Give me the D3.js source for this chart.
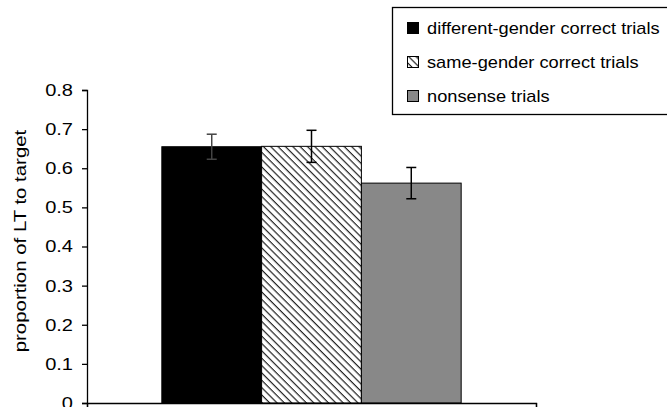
<!DOCTYPE html>
<html><head><meta charset="utf-8">
<script src="https://cdn.jsdelivr.net/npm/d3@7"></script>
<style>body{margin:0;background:#fff}svg{display:block}text{font-family:"Liberation Sans",Arial,sans-serif;fill:#000}</style>
</head><body>
<script>
const series = ["different-gender correct trials","same-gender correct trials","nonsense trials"];
const values = [0.655, 0.656, 0.562];
const errors = [0.032, 0.041, 0.040];
const yTicks = [0,0.1,0.2,0.3,0.4,0.5,0.6,0.7,0.8];
const yTitle = "proportion of LT to target";
const fills = ["#000000","url(#hatch)","#888888"];

const W=667,H=407;
const svg=d3.select("body").append("svg").attr("width",W).attr("height",H);
const defs=svg.append("defs");
const P=5.2;
const pat=defs.append("pattern").attr("id","hatch").attr("patternUnits","userSpaceOnUse")
  .attr("width",P).attr("height",P).attr("patternTransform","rotate(45)");
pat.append("rect").attr("width",P).attr("height",P).attr("fill","#fff");
pat.append("line").attr("x1",0).attr("y1",0.6).attr("x2",P).attr("y2",0.6).attr("stroke","#222").attr("stroke-width",1.2);

const x0=87,x1=536,yTop=90,yBot=403;
const y=d3.scaleLinear().domain([0,0.8]).range([yBot,yTop]);
const band=d3.scaleBand().domain(["g"]).range([x0,x1]).paddingInner(0).paddingOuter(0.25);
const xs=d3.scaleBand().domain(series).range([band("g"),band("g")+band.bandwidth()]).padding(0);

const g=svg.append("g");
g.selectAll("rect.bar").data(series).join("rect").attr("class","bar")
 .attr("x",d=>xs(d)).attr("width",xs.bandwidth())
 .attr("y",(d,i)=>y(values[i])).attr("height",(d,i)=>y(0)-y(values[i]))
 .attr("fill",(d,i)=>fills[i]).attr("stroke","#000").attr("stroke-width",1);
series.forEach((s,i)=>{
  const cx=xs(s)+xs.bandwidth()/2;
  const hi=y(values[i]+errors[i]), lo=y(values[i]-errors[i]);
  const col=i===0?"#444":"#000";
  g.append("line").attr("x1",cx).attr("x2",cx).attr("y1",hi).attr("y2",lo).attr("stroke",col).attr("stroke-width",1.5);
  g.append("line").attr("x1",cx-5).attr("x2",cx+5).attr("y1",hi).attr("y2",hi).attr("stroke",col).attr("stroke-width",1.5);
  g.append("line").attr("x1",cx-5).attr("x2",cx+5).attr("y1",lo).attr("y2",lo).attr("stroke",col).attr("stroke-width",1.5);
});
// y axis
const sx=1.18;
const ya=svg.append("g").attr("transform",`translate(${x0},0)`)
 .call(d3.axisLeft(y).tickValues(yTicks).tickFormat(d=>d===0?"0":d3.format(".1f")(d)).tickSizeOuter(0).tickSize(5).tickPadding(9));
ya.select(".domain").attr("stroke","#000").attr("stroke-width",1.3);
ya.selectAll(".tick line").attr("stroke","#000").attr("stroke-width",1.3);
ya.selectAll("text").attr("font-size",17).attr("font-family","Liberation Sans, Arial, sans-serif")
  .attr("x",-14/sx).attr("transform",`scale(${sx},1)`);
// x axis
const xa=svg.append("g").attr("transform",`translate(0,${yBot})`)
 .call(d3.axisBottom(d3.scaleLinear().domain([0,1]).range([x0,x1])).tickValues([0,1]).tickFormat("").tickSizeOuter(0).tickSize(5));
xa.select(".domain").attr("stroke","#000").attr("stroke-width",1.3);
xa.selectAll(".tick line").attr("stroke","#000").attr("stroke-width",1.3);
// y title
svg.append("text").attr("transform",`translate(26,241) rotate(-90) scale(1.2,1)`).attr("text-anchor","middle")
 .attr("font-size",17).text(yTitle);
// legend
const lg=svg.append("g");
lg.append("rect").attr("x",392.5).attr("y",7.5).attr("width",290).attr("height",107).attr("fill","#fff").attr("stroke","#000").attr("stroke-width",1.3);
const ly=d3.scalePoint().domain(series).range([28,96]);
series.forEach((s,i)=>{
  lg.append("rect").attr("x",407.5).attr("y",ly(s)-5.5).attr("width",11).attr("height",11).attr("fill",fills[i]).attr("stroke","#000").attr("stroke-width",1);
  lg.append("text").attr("transform",`translate(427,${ly(s)}) scale(1.14,1)`).attr("dy","0.35em").attr("font-size",16).text(s);
});
</script>
</body></html>
